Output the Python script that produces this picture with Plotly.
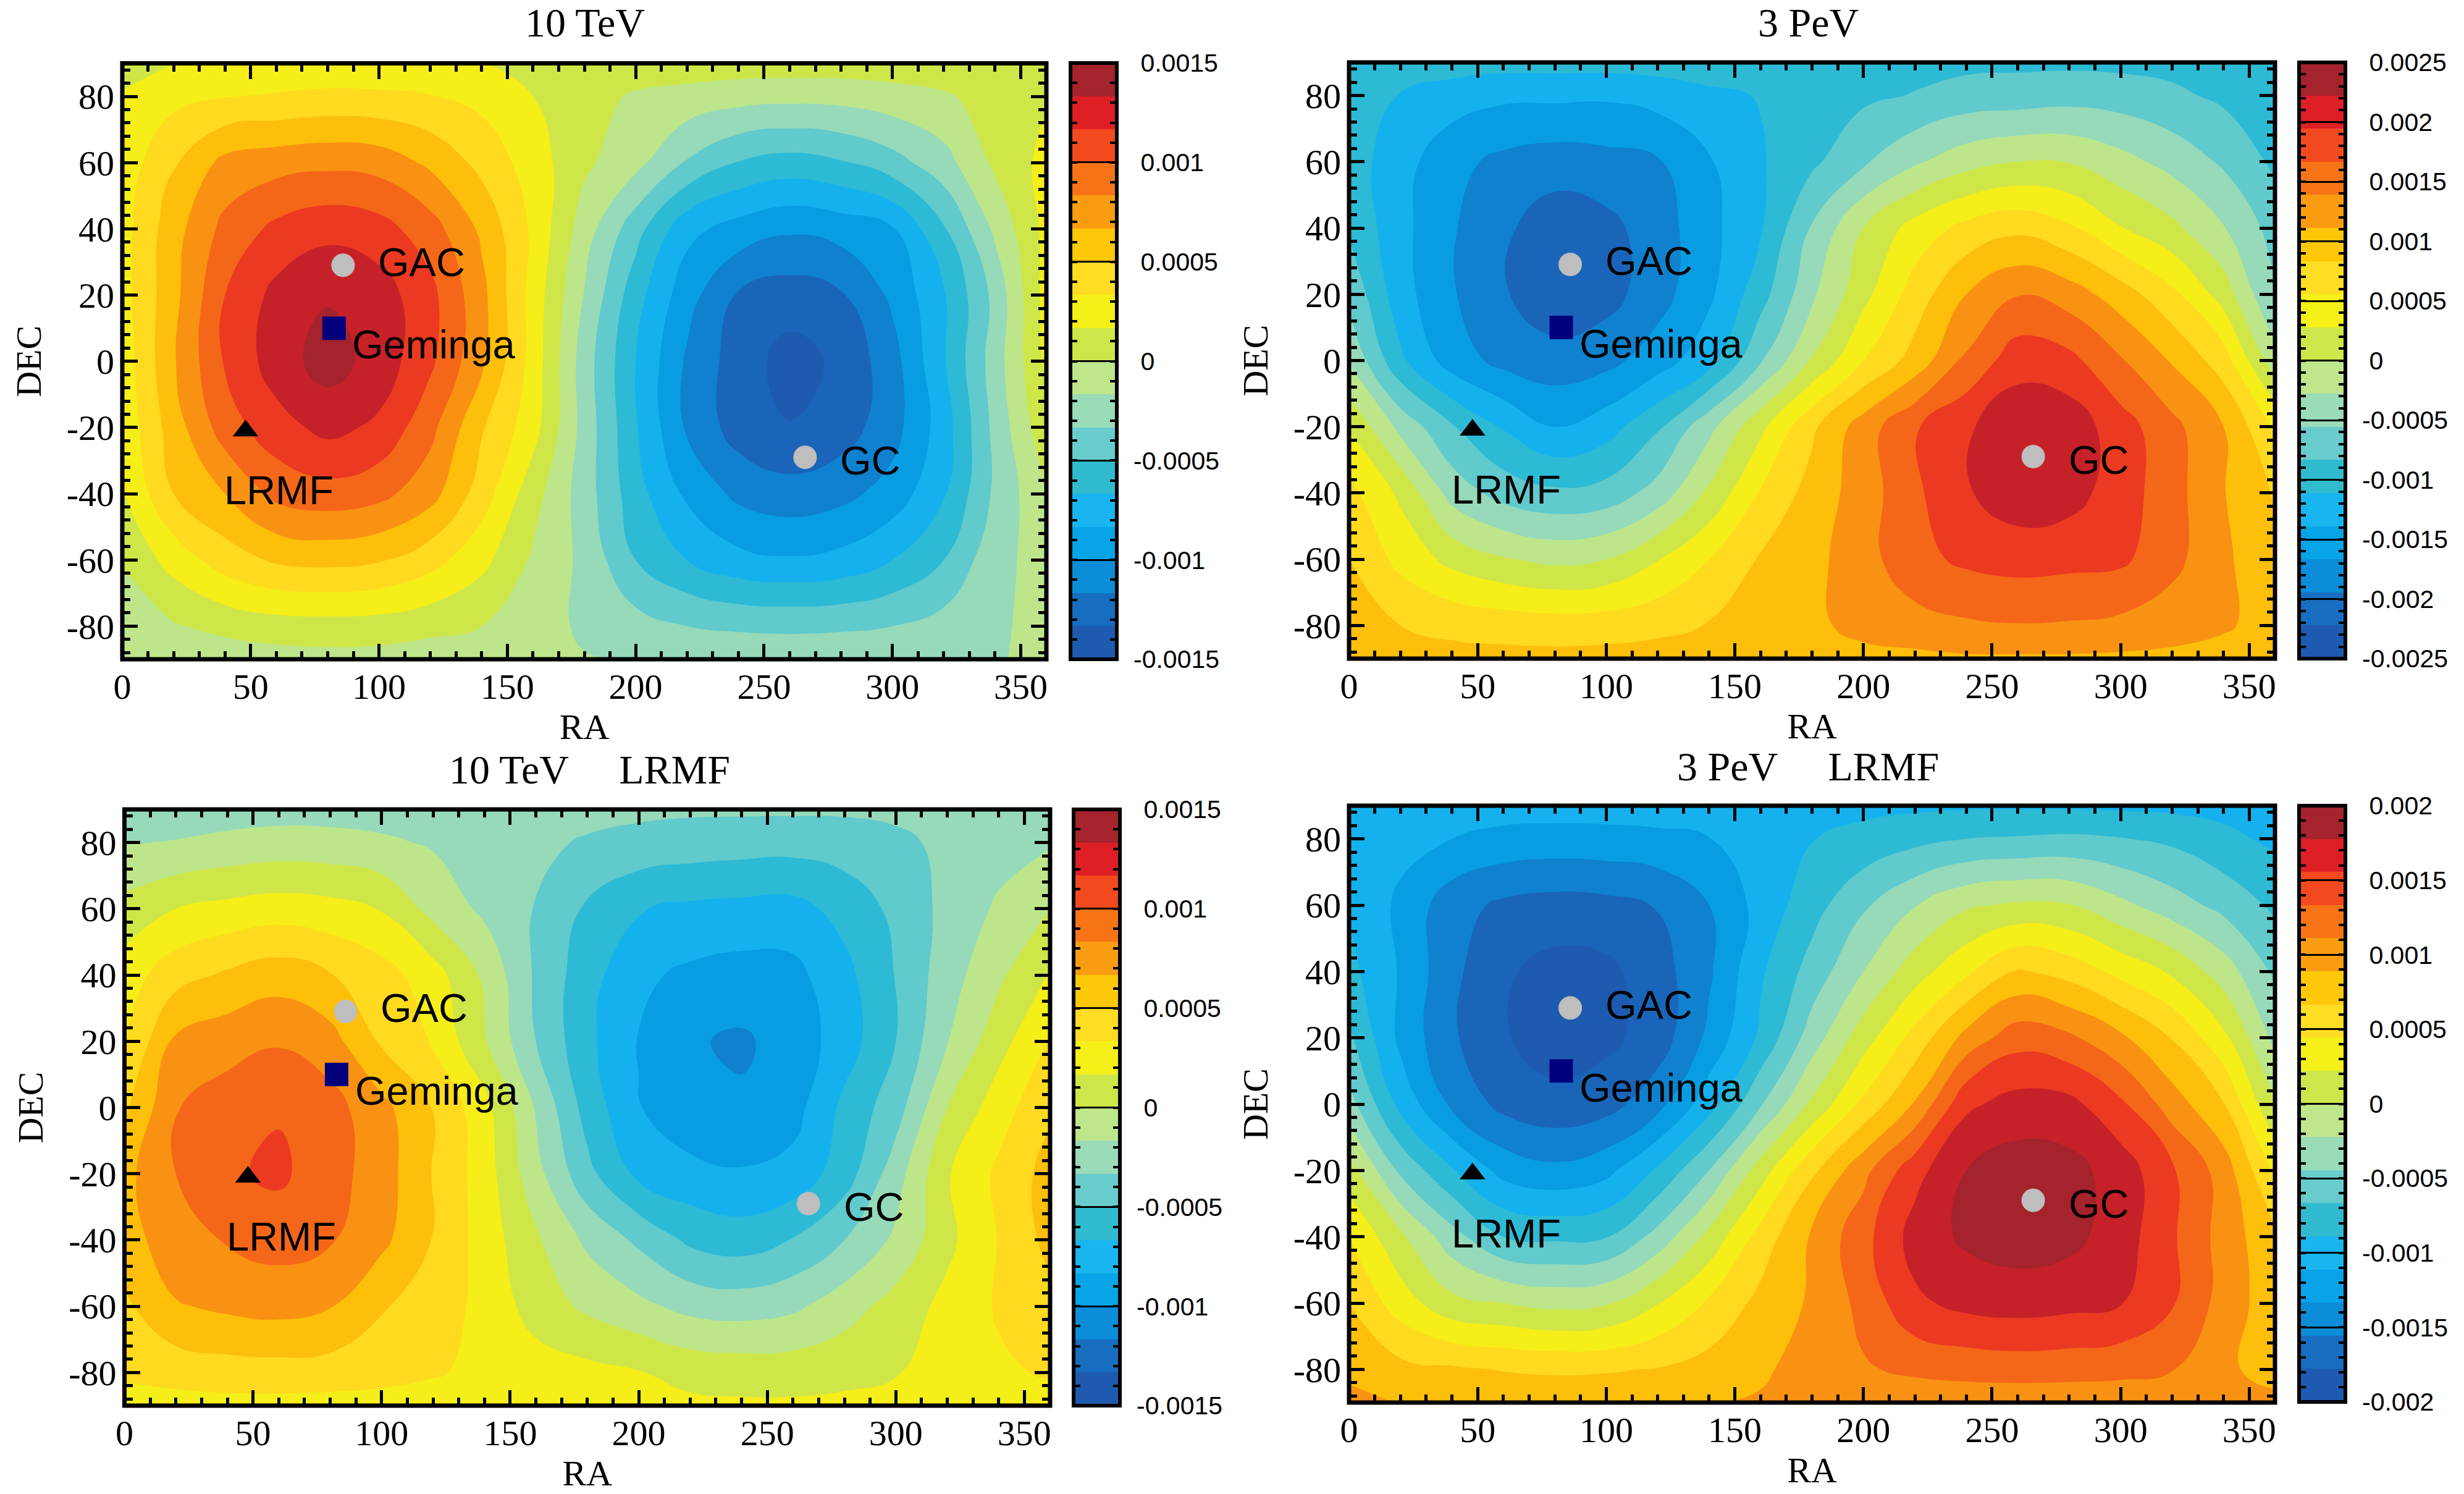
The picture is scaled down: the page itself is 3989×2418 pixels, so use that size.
import plotly.graph_objects as go

W, H = 3989, 2418
RA = list(range(0, 361, 20))
DEC = [90, 80, 60, 40, 20, 0, -20, -40, -60, -80, -90]

# values, in colour-band units (one band = vmax / 9)
BANDS_10TEV = [
    [0.6,1.0,1.1,1.2,1.2,1.2,1.1,1.02,0.8,0.6,0.45,0.55,0.55,0.55,0.55,0.55,0.5,0.5,0.6],
    [1.1,1.7,1.95,2.1,2.25,2.2,2.05,1.7,1.0,0.3,-0.1,-0.35,-0.6,-0.7,-0.65,-0.4,-0.1,0.3,0.9],
    [1.4,2.9,4.3,4.6,4.75,4.6,3.8,2.7,1.5,0.2,-0.7,-2.1,-3.05,-3.4,-3.1,-2.4,-1.4,0.2,1.3],
    [1.6,3.6,5.3,6.25,6.7,6.4,5.45,3.8,1.8,-0.5,-2.6,-4.7,-5.4,-5.85,-5.6,-5.1,-3.1,-0.8,1.3],
    [1.6,3.7,6.0,7.3,7.9,7.5,6.3,4.3,1.6,-1.05,-3.6,-5.6,-7.1,-7.5,-7.1,-5.8,-4.1,-1.7,1.4],
    [1.4,3.9,6.1,7.5,8.45,7.6,6.2,4.2,1.6,-1.5,-4.0,-6.15,-7.5,-8.4,-7.8,-6.4,-4.1,-1.5,1.2],
    [1.25,3.5,5.5,6.6,7.3,6.8,5.3,3.1,1.4,-1.4,-3.9,-6.15,-7.45,-7.95,-7.5,-6.4,-4.5,-1.7,0.7],
    [0.9,3.0,4.0,5.3,5.6,5.3,4.4,2.5,0.4,-1.5,-3.6,-5.2,-6.25,-6.6,-6.3,-5.6,-4.1,-1.8,-0.1],
    [0.1,1.4,2.5,3.15,3.3,3.1,2.4,1.3,-0.15,-1.25,-3,-4,-4.7,-4.9,-4.7,-4,-3,-1.3,-0.6],
    [-0.9,-0.1,0.3,0.55,0.6,0.55,0.3,0,-0.6,-1.15,-1.6,-2,-2.15,-2.2,-2.15,-2,-1.6,-1.15,-0.7],
    [-0.9,-0.8,-0.6,-0.45,-0.35,-0.4,-0.55,-0.7,-0.85,-0.95,-1.05,-1.2,-1.3,-1.35,-1.3,-1.25,-1.15,-1.05,-0.85],
]
BANDS_3PEV = [
    [-3.3,-3.4,-3.5,-3.6,-3.6,-3.6,-3.55,-3.5,-3.45,-3.4,-3.35,-3.3,-3.25,-3.2,-3.2,-3.25,-3.3,-3.4,-3.45],
    [-3.3,-4.05,-4.5,-4.8,-4.8,-4.85,-4.6,-4.2,-3.95,-3.5,-3.2,-2.95,-2.6,-2.55,-2.4,-2.5,-2.8,-3.2,-3.5],
    [-3.5,-4.6,-5.7,-6.25,-6.5,-6.35,-6.1,-5.1,-4.1,-3.2,-2.15,-1.15,-0.4,0,-0.05,-0.65,-1.35,-2.15,-3.2],
    [-3.15,-4.7,-5.9,-6.8,-7.6,-7.3,-6.5,-5.3,-4.1,-1.9,0,1.4,2.3,2.75,2.15,1.05,0.25,-0.95,-2.4],
    [-2.2,-4.6,-5.9,-6.9,-7.7,-7.4,-6.4,-5.2,-3.4,-1.2,0.7,2.45,4.0,4.95,4.5,3.5,2.25,0.55,-2.1],
    [-1.1,-3.8,-5.5,-6.3,-6.6,-6.3,-5.5,-4.35,-2.1,0.1,2,3.4,5.2,6.6,6.3,5.1,3.9,2.5,-0.6],
    [0.9,-1.3,-2.9,-4.1,-5,-4.45,-3.15,-1.3,0.75,2.8,4.5,5.9,6.85,7.7,7.6,6.45,5.3,4,1.9],
    [2.3,0.8,-1.4,-2.4,-2.8,-2.6,-1.6,0.2,2.1,3.4,4.5,5.8,6.9,7.6,7.4,6.5,5.4,4.05,2.9],
    [3,1.7,0.7,0.1,-0.25,0,0.95,2,3.1,3.7,4.6,5.7,6.2,6.4,6.3,6.2,5.3,4.2,3.2],
    [3.5,3.0,2.75,2.6,2.5,2.55,2.75,3.05,3.4,3.8,4.3,4.6,4.85,4.95,4.9,4.75,4.45,4.1,3.7],
    [3.6,3.4,3.3,3.3,3.3,3.35,3.4,3.45,3.5,3.6,3.7,3.75,3.85,3.85,3.85,3.8,3.75,3.7,3.6],
]
BANDS_10TEV_LRMF = [
    [-1.5,-1.5,-1.45,-1.4,-1.4,-1.4,-1.45,-1.5,-1.6,-1.7,-1.8,-1.85,-1.85,-1.85,-1.85,-1.8,-1.7,-1.6,-1.5],
    [-1.05,-0.95,-0.75,-0.6,-0.65,-0.85,-1.1,-1.4,-1.8,-2.1,-2.3,-2.45,-2.55,-2.6,-2.5,-2.2,-1.8,-1.4,-1.1],
    [0.35,1.0,1.3,1.5,1.35,0.95,-0.35,-1.2,-2.05,-3.15,-3.95,-4.2,-4.3,-4.35,-3.65,-2.75,-1.7,-0.85,0],
    [1.5,2.6,3.15,3.55,3.05,2.4,1.45,-0.2,-2.15,-3.6,-4.8,-5.2,-5.4,-5.3,-4.3,-2.95,-1.45,-0.2,1.1],
    [1.9,4.2,4.6,4.9,4.4,2.85,1.9,0.1,-2,-3.75,-5.05,-5.9,-6.15,-5.6,-4.5,-3,-1.05,0.6,2.1],
    [2.8,4.95,5.5,5.9,5.4,4.3,2.95,1.35,-1.1,-3.4,-4.95,-5.7,-5.85,-5.4,-3.75,-2.45,0,1.55,2.8],
    [3.7,5,5.85,6.2,5.4,4.5,2.95,1.5,-0.65,-2.7,-4.25,-4.7,-4.9,-4.65,-3.5,-1.45,0.9,2.2,3.4],
    [3.4,4.8,5.05,5.4,5.1,4.25,2.95,1.55,0.15,-1.2,-2.2,-3.2,-3.5,-2.95,-2,-0.8,0.75,2.05,3.3],
    [2.8,3.9,4.2,4.35,4.05,3.1,2.45,1.75,0.55,-0.2,-0.75,-1.3,-1.45,-1.2,-0.45,0.4,1.3,2.1,2.7],
    [2.2,2.4,2.55,2.6,2.55,2.4,2.1,1.75,1.5,1.3,1.05,0.7,0.6,0.6,0.75,0.95,1.35,1.85,2.1],
    [1.5,1.6,1.65,1.65,1.6,1.55,1.5,1.4,1.35,1.3,1.25,1.2,1.15,1.15,1.2,1.3,1.4,1.5,1.55],
]
BANDS_3PEV_LRMF = [
    [-4.4,-4.5,-4.5,-4.55,-4.55,-4.55,-4.5,-4.4,-4.3,-4.3,-4.25,-4.2,-4.15,-4.15,-4.15,-4.2,-4.25,-4.3,-4.4],
    [-4.5,-4.7,-5,-5.3,-5.4,-5.35,-5.25,-5.03,-4.5,-4.03,-3.7,-3.3,-3,-2.9,-2.8,-2.95,-3.2,-3.75,-4.2],
    [-4.1,-5.2,-6.6,-7.2,-7.4,-7.3,-6.95,-6,-4.65,-3.4,-2.15,-1.05,-0.15,0.15,0.05,-0.75,-1.55,-2.3,-3.2],
    [-3.7,-5.1,-6.75,-7.85,-8.35,-8.25,-7.45,-6.15,-4.15,-2.6,-1,0.55,1.8,3.1,2.6,1.7,0.85,-0.5,-2.2],
    [-2.8,-5.25,-6.85,-7.9,-8.5,-8.25,-7.55,-5.75,-3.8,-1.5,0.55,2.35,4.35,5.6,5.2,4.2,2.95,1.25,-1.3],
    [-1.6,-4.3,-6.2,-7.3,-7.7,-7.4,-6.35,-4.4,-2.1,0.2,2.25,4.1,6.8,7.4,7.3,6.2,4.5,3.05,0],
    [0.4,-2.2,-3.9,-5.35,-5.75,-5.3,-3.85,-2,0.5,2.8,4.7,6.65,8,8.5,8.35,7.55,6.15,4.55,1.8],
    [2,0.2,-1.6,-3,-3.2,-3.05,-1.65,0.3,2.4,4.15,5.65,7.4,8.2,8.5,8.3,7.5,6.15,4.6,3.2],
    [3,1.5,0.3,0,-0.3,-0.1,0.95,2.15,3.3,4.15,5.3,6.8,7.3,7.45,7.3,7.05,6.1,4.6,3.4],
    [3.75,3.3,3.15,2.95,2.85,2.9,3.05,3.4,3.85,4.4,4.9,5.2,5.35,5.45,5.4,5.3,5.05,4.15,3.7],
    [4.3,3.95,3.8,3.7,3.7,3.75,3.85,3.95,4.1,4.2,4.3,4.35,4.4,4.35,4.35,4.35,4.3,4.25,4.2],
]

BAND_COLORS = ["#1E5AB0", "#176DC0", "#0B8DD8", "#07A4E8", "#19B5F0", "#31BBCF",
               "#68CCCC", "#9ADBB8", "#BEE68A", "#CEE649", "#F4F018", "#FFDD22",
               "#FEC707", "#FA9C10", "#F77416", "#F2491E", "#DE1F26", "#A4232C"]

MARK_NAMES = ["GAC", "GC", "Geminga", "LRMF"]
MARK_RA = [86, 266, 82.5, 48]
MARK_DEC = [29, -29, 10, -21]
LABEL_RA = [116.5, 291.5, 121.5, 61]
LABEL_DEC = [30, -30, 5, -39]

XTICKS = [0, 50, 100, 150, 200, 250, 300, 350]
YTICKS = [-80, -60, -40, -20, 0, 20, 40, 60, 80]

TICKS_15 = [-0.0015, -0.001, -0.0005, 0, 0.0005, 0.001, 0.0015]
TEXT_15 = ["-0.0015", "-0.001", "-0.0005", "0", "0.0005", "0.001", "0.0015"]
TICKS_25 = [-0.0025, -0.002, -0.0015, -0.001, -0.0005, 0, 0.0005, 0.001, 0.0015, 0.002, 0.0025]
TEXT_25 = ["-0.0025", "-0.002", "-0.0015", "-0.001", "-0.0005", "0", "0.0005", "0.001", "0.0015", "0.002", "0.0025"]
TICKS_20 = [-0.002, -0.0015, -0.001, -0.0005, 0, 0.0005, 0.001, 0.0015, 0.002]
TEXT_20 = ["-0.002", "-0.0015", "-0.001", "-0.0005", "0", "0.0005", "0.001", "0.0015", "0.002"]

PANELS = [
    dict(title="10 TeV", z=BANDS_10TEV, vmax=0.0015, cticks=TICKS_15, ctext=TEXT_15,
         box=(198, 1694, 102.5, 1067), cb=(1733, 1808, 102, 1067), tx=947, ty=36),
    dict(title="3 PeV", z=BANDS_3PEV, vmax=0.0025, cticks=TICKS_25, ctext=TEXT_25,
         box=(2184, 3683, 101, 1066), cb=(3722, 3797, 101, 1066), tx=2927, ty=36),
    dict(title="10 TeV     LRMF", z=BANDS_10TEV_LRMF, vmax=0.0015, cticks=TICKS_15, ctext=TEXT_15,
         box=(201.5, 1700, 1310, 2275), cb=(1738, 1813, 1310, 2275), tx=954, ty=1245),
    dict(title="3 PeV     LRMF", z=BANDS_3PEV_LRMF, vmax=0.002, cticks=TICKS_20, ctext=TEXT_20,
         box=(2184, 3683, 1304, 2270), cb=(3722, 3797, 1304, 2269), tx=2927, ty=1240),
]

SERIF = "Liberation Serif"
SANS = "Liberation Sans"

n = len(BAND_COLORS)
# contour fills take the colour at level k/(n+1); one flat stop per band
contour_scale = [[0, BAND_COLORS[0]]]
for k, c in enumerate(BAND_COLORS, start=1):
    contour_scale.append([k / (n + 1), c])
contour_scale.append([1, BAND_COLORS[-1]])
bar_scale = []
for k, c in enumerate(BAND_COLORS):
    bar_scale += [[k / n, c], [(k + 1) / n, c]]

fig = go.Figure()
layout = dict(width=W, height=H, margin=dict(l=0, r=0, t=0, b=0, autoexpand=False), paper_bgcolor="white",
              plot_bgcolor="white", showlegend=False, annotations=[], shapes=[])


def dom(a, b, size, flip=False):
    return [1 - b / size, 1 - a / size] if flip else [a / size, b / size]


def frame(xa, ya, width):
    return dict(type="rect", xref=xa + " domain", yref=ya + " domain", x0=0, x1=1, y0=0, y1=1,
                line=dict(color="black", width=width), fillcolor="rgba(0,0,0,0)", layer="above")


for i, p in enumerate(PANELS):
    ax = "" if i == 0 else str(i + 1)
    cx = str(i + 5)
    band = p["vmax"] / 9
    z = [[b * band for b in row] for row in p["z"]]
    fig.add_trace(go.Contour(x=RA, y=DEC, z=z, xaxis="x" + ax, yaxis="y" + ax, autocontour=False,
                             contours=dict(start=-p["vmax"], end=p["vmax"], size=band, coloring="fill"),
                             line=dict(width=0, smoothing=1.3), colorscale=contour_scale,
                             zmin=-p["vmax"], zmax=p["vmax"], showscale=False, hoverinfo="skip"))
    for names, sym, col, size in ((("GAC", "GC"), "circle", "#BEBEBE", 38),
                                  (("Geminga",), "square", "#00007F", 38),
                                  (("LRMF",), "triangle-up", "black", 36)):
        idx = [MARK_NAMES.index(m) for m in names]
        fig.add_trace(go.Scatter(x=[MARK_RA[j] for j in idx], y=[MARK_DEC[j] for j in idx], mode="markers",
                                 marker=dict(symbol=sym, color=col, size=size, line=dict(width=0)),
                                 xaxis="x" + ax, yaxis="y" + ax, hoverinfo="skip"))
    for j, name in enumerate(MARK_NAMES):
        layout["annotations"].append(dict(x=LABEL_RA[j], y=LABEL_DEC[j], xref="x" + ax, yref="y" + ax, text=name,
                                          showarrow=False, xanchor="center", yanchor="middle",
                                          font=dict(family=SANS, size=65, color="black")))
    layout["annotations"].append(dict(x=p["tx"] / W, y=1 - p["ty"] / H, xref="paper", yref="paper", text=p["title"],
                                      showarrow=False, xanchor="center", yanchor="middle",
                                      font=dict(family=SERIF, size=66, color="black")))
    x0, x1, y0, y1 = p["box"]
    common = dict(showline=False, mirror="allticks", ticks="inside", ticklen=25, tickwidth=5, tickcolor="black",
                  showgrid=False, zeroline=False, automargin=False,
                  tickfont=dict(family=SERIF, size=58, color="black"))
    layout["xaxis" + ax] = dict(common, domain=dom(x0, x1, W), range=[0, 360], anchor="y" + ax, tickmode="array",
                                tickvals=XTICKS, ticktext=[str(v) for v in XTICKS], ticklabelstandoff=5,
                                minor=dict(ticks="inside", ticklen=13, tickwidth=5, tickcolor="black", dtick=10, tick0=0),
                                title=dict(text="RA", font=dict(family=SERIF, size=58, color="black"), standoff=4))
    layout["yaxis" + ax] = dict(common, domain=dom(y0, y1, H, True), range=[-90, 90], anchor="x" + ax, tickmode="array",
                                tickvals=YTICKS, ticktext=[str(v) for v in YTICKS], ticklabelstandoff=12,
                                minor=dict(ticks="inside", ticklen=13, tickwidth=5, tickcolor="black", dtick=4, tick0=0),
                                title=dict(text="DEC", font=dict(family=SERIF, size=58, color="black"), standoff=22))
    layout["shapes"].append(frame("x" + ax, "y" + ax, 7))
    # colour bar: one cell per band on its own axis
    edges = [-p["vmax"] + k * band for k in range(n + 1)]
    centers = [(edges[k] + edges[k + 1]) / 2 for k in range(n)]
    fig.add_trace(go.Heatmap(x=[0], y=centers, z=[[c] for c in centers], xaxis="x" + cx, yaxis="y" + cx,
                             colorscale=bar_scale, zmin=-p["vmax"], zmax=p["vmax"], showscale=False, hoverinfo="skip"))
    cx0, cx1, cy0, cy1 = p["cb"]
    layout["xaxis" + cx] = dict(domain=dom(cx0, cx1, W), range=[-0.5, 0.5], anchor="y" + cx, showline=False,
                                ticks="", showticklabels=False, showgrid=False, zeroline=False, automargin=False)
    layout["yaxis" + cx] = dict(domain=dom(cy0, cy1, H, True), range=[-p["vmax"], p["vmax"]], anchor="x" + cx,
                                side="right", showline=False, mirror="allticks",
                                ticks="inside", ticklen=cx1 - cx0, tickwidth=3, tickcolor="black", showgrid=False,
                                zeroline=False, tickmode="array", tickvals=p["cticks"], automargin=False,
                                ticktext=[t if t.startswith("-") else "\u00a0" + t for t in p["ctext"]],
                                tickfont=dict(family=SANS, size=41, color="black"), ticklabelstandoff=26,
                                minor=dict(ticks="inside", ticklen=11, tickwidth=4, tickcolor="black", dtick=0.0001, tick0=0))
    layout["shapes"].append(frame("x" + cx, "y" + cx, 6))

fig.update_layout(**layout)
fig.write_html("out.html", config={"displayModeBar": False}, post_script="document.body.style.margin='0';")
